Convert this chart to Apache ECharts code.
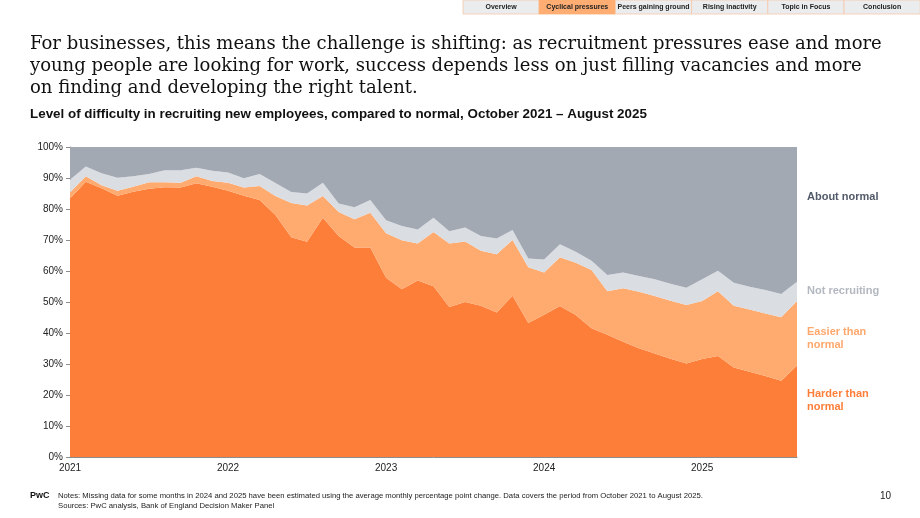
<!DOCTYPE html>
<html>
<head>
<meta charset="utf-8">
<script src="https://cdn.jsdelivr.net/npm/echarts@6/dist/echarts.min.js"></script>
<style>
  html, body { margin: 0; padding: 0; background: #fff; }
  #chart { width: 920px; height: 518px; }
</style>
</head>
<body>
<div id="chart"></div>
<script>
// monthly, Oct 2021 .. Aug 2025
const months = [
  'Oct 2021', 'Nov 2021', 'Dec 2021',
  'Jan 2022', 'Feb 2022', 'Mar 2022', 'Apr 2022', 'May 2022', 'Jun 2022',
  'Jul 2022', 'Aug 2022', 'Sep 2022', 'Oct 2022', 'Nov 2022', 'Dec 2022',
  'Jan 2023', 'Feb 2023', 'Mar 2023', 'Apr 2023', 'May 2023', 'Jun 2023',
  'Jul 2023', 'Aug 2023', 'Sep 2023', 'Oct 2023', 'Nov 2023', 'Dec 2023',
  'Jan 2024', 'Feb 2024', 'Mar 2024', 'Apr 2024', 'May 2024', 'Jun 2024',
  'Jul 2024', 'Aug 2024', 'Sep 2024', 'Oct 2024', 'Nov 2024', 'Dec 2024',
  'Jan 2025', 'Feb 2025', 'Mar 2025', 'Apr 2025', 'May 2025', 'Jun 2025',
  'Jul 2025', 'Aug 2025'
]
// tick labels as printed on the original, one every 10 points
const tickLabels = ['2021', '2022', '2023', '2024', '2025']
const yTicks = ['0%', '10%', '20%', '30%', '40%', '50%', '60%', '70%', '80%', '90%', '100%']

const harder = [
  83.4, 88.8, 86.7, 84.3, 85.6, 86.5, 87.0, 86.9, 88.3, 87.2,
  85.9, 84.3, 82.9, 78.1, 70.9, 69.4, 77.2, 71.3, 67.6, 67.6,
  57.8, 54.1, 56.9, 55.1, 48.4, 50.0, 48.8, 46.6, 52.0, 43.2,
  45.9, 48.7, 45.8, 41.5, 39.4, 37.2, 35.1, 33.4, 31.7, 30.2,
  31.6, 32.6, 28.9, 27.5, 26.1, 24.6, 29.5
]
const easier = [
  1.9, 1.8, 1.0, 1.6, 1.6, 2.1, 1.6, 1.6, 2.3, 1.8,
  2.6, 2.6, 4.5, 6.1, 11.0, 11.7, 7.0, 7.7, 9.1, 11.2,
  14.4, 15.8, 12.0, 17.5, 20.5, 19.5, 17.7, 18.8, 18.0, 18.0,
  13.6, 15.7, 16.9, 18.8, 14.1, 17.2, 18.2, 18.5, 18.7, 18.8,
  18.7, 20.9, 19.9, 20.1, 20.2, 20.5, 20.8
]
const notRecruiting = [
  4.1, 3.1, 3.8, 4.2, 3.4, 2.7, 3.9, 4.0, 2.7, 3.3,
  3.3, 3.0, 3.9, 4.2, 3.6, 3.9, 4.3, 2.8, 3.9, 4.1,
  4.2, 4.6, 4.5, 4.6, 3.9, 4.5, 4.8, 5.1, 3.2, 2.8,
  4.2, 4.2, 3.5, 3.0, 5.2, 5.1, 5.1, 5.4, 5.5, 5.6,
  7.0, 6.6, 7.4, 7.3, 7.6, 7.5, 6.2
]
const aboutNormal = [
  10.6, 6.3, 8.5, 9.9, 9.4, 8.7, 7.5, 7.5, 6.7, 7.7,
  8.2, 10.1, 8.7, 11.6, 14.5, 15.0, 11.5, 18.2, 19.4, 17.1,
  23.6, 25.5, 26.6, 22.8, 27.2, 26.0, 28.7, 29.5, 26.8, 36.0,
  36.3, 31.4, 33.8, 36.7, 41.3, 40.5, 41.6, 42.7, 44.1, 45.4,
  42.7, 39.9, 43.8, 45.1, 46.1, 47.4, 43.5
]

const navTabs = ['Overview', 'Cyclical pressures', 'Peers gaining ground', 'Rising inactivity', 'Topic in Focus', 'Conclusion']

const sans = 'Liberation Sans, Arial, sans-serif'
const colors = {
  harder: '#fd7e39',
  easier: '#ffaa6f',
  notRec: '#dadde2',
  about: '#a2a9b3',
}

function areaSeries(name, data, color) {
  return {
    name,
    type: 'line',
    stack: 'total',
    data,
    symbol: 'none',
    lineStyle: { width: 0 },
    areaStyle: { color, opacity: 1 },
    itemStyle: { color },
    emphasis: { disabled: true },
  }
}

// nav bar at the top
const navGraphics = []
const tabW = 76.2
navTabs.forEach((t, i) => {
  const x = 463 + i * tabW
  const active = t === 'Cyclical pressures'
  navGraphics.push({
    type: 'rect',
    shape: { x, y: 0, width: tabW, height: 14 },
    style: { fill: active ? '#ffad72' : '#ebecee', stroke: active ? '#ffad72' : '#f6c8a8', lineWidth: 0.8 },
  })
  navGraphics.push({
    type: 'text',
    x: x + tabW / 2,
    y: 7.5,
    style: { text: t, fill: '#222', font: 'bold 7px ' + sans, align: 'center', verticalAlign: 'middle' },
  })
})

const chart = echarts.init(document.getElementById('chart'), null, { renderer: 'canvas' })
chart.setOption({
  animation: false,
  grid: { left: 70, right: 123, top: 147, bottom: 61 },
  xAxis: {
    type: 'category',
    data: months,
    boundaryGap: false,
    axisLine: { lineStyle: { color: '#8c8c8c', width: 1 } },
    axisTick: { show: false },
    axisLabel: {
      interval: 9,
      color: '#222',
      fontSize: 10,
      fontFamily: sans,
      margin: 6,
      formatter: (v, idx) => tickLabels[idx / 10] || '',
    },
    splitLine: { show: false },
  },
  yAxis: {
    type: 'value',
    min: 0,
    max: 100,
    interval: 10,
    axisLine: { show: true, lineStyle: { color: '#8c8c8c', width: 1 } },
    axisTick: { show: true, length: 4, lineStyle: { color: '#8c8c8c' } },
    axisLabel: {
      color: '#222',
      fontSize: 10,
      fontFamily: sans,
      margin: 7,
      formatter: v => yTicks[Math.round(v / 10)],
    },
    splitLine: { show: false },
  },
  series: [
    areaSeries('Harder than normal', harder, colors.harder),
    areaSeries('Easier than normal', easier, colors.easier),
    areaSeries('Not recruiting', notRecruiting, colors.notRec),
    areaSeries('About normal', aboutNormal, colors.about),
  ],
  graphic: [
    ...navGraphics,
    {
      type: 'text',
      left: 30,
      top: 33,
      style: {
        text: 'For businesses, this means the challenge is shifting: as recruitment pressures ease and more\nyoung people are looking for work, success depends less on just filling vacancies and more\non finding and developing the right talent.',
        font: '18px DejaVu Serif, Georgia, serif',
        lineHeight: 22,
        fill: '#111',
      },
    },
    {
      type: 'text',
      left: 30,
      top: 108,
      style: {
        text: 'Level of difficulty in recruiting new employees, compared to normal, October 2021 \u2013 August 2025',
        font: 'bold 13.4px ' + sans,
        fill: '#111',
      },
    },
    // series labels on the right
    { type: 'text', x: 807, y: 197, style: { text: 'About normal', font: 'bold 11px ' + sans, fill: '#525a69', verticalAlign: 'middle' } },
    { type: 'text', x: 807, y: 291, style: { text: 'Not recruiting', font: 'bold 11px ' + sans, fill: '#b3b8c0', verticalAlign: 'middle' } },
    { type: 'text', x: 807, y: 338.5, style: { text: 'Easier than\nnormal', font: 'bold 11px ' + sans, lineHeight: 13, fill: '#ffa86d', verticalAlign: 'middle' } },
    { type: 'text', x: 807, y: 400.5, style: { text: 'Harder than\nnormal', font: 'bold 11px ' + sans, lineHeight: 13, fill: '#fd7e39', verticalAlign: 'middle' } },
    // footer
    { type: 'text', x: 30, y: 496, style: { text: 'PwC', font: 'bold 9px ' + sans, fill: '#111', verticalAlign: 'middle' } },
    {
      type: 'text',
      left: 58,
      top: 491,
      style: {
        text: 'Notes: Missing data for some months in 2024 and 2025 have been estimated using the average monthly percentage point change. Data covers the period from October 2021 to August 2025.\nSources: PwC analysis, Bank of England Decision Maker Panel',
        font: '7.7px ' + sans,
        lineHeight: 10,
        fill: '#222',
      },
    },
    { type: 'text', x: 880, y: 496, style: { text: '10', font: '10px ' + sans, fill: '#222', verticalAlign: 'middle' } },
  ],
})
</script>
</body>
</html>
